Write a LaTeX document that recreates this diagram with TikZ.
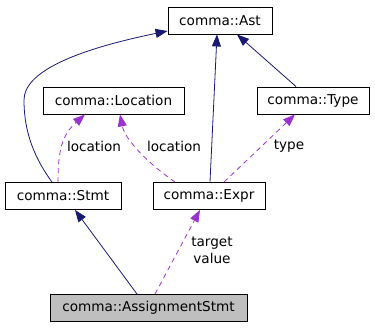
\documentclass[tikz,border=0pt]{standalone}
\usepackage{fontspec}
\setmainfont{DejaVu Sans}
\usetikzlibrary{arrows.meta, calc}
\definecolor{inheritblue}{HTML}{191970}
\definecolor{usagepurple}{HTML}{9A32CD}
\definecolor{currentgray}{HTML}{BFBFBF}

\begin{document}
\begin{tikzpicture}[
    x=1pt, y=-1pt,
    every node/.style={font=\fontsize{13.6}{17}\selectfont, inner sep=0pt},
    classbox/.style={draw, line width=0.9pt, minimum height=27pt, fill=white},
    inherit/.style={draw=inheritblue, line width=0.8pt, -{Triangle[length=12pt, width=9pt]}},
    usage/.style={draw=usagepurple, line width=0.8pt, dash pattern=on 5pt off 4pt, -{Triangle[length=12pt, width=9pt]}},
    edgelabel/.style={align=center},
]
\useasboundingbox (0,0) rectangle (375,328);

% classes
\node[classbox, minimum width=104pt] (ast) at (220,20.5) {comma::Ast};
\node[classbox, minimum width=141pt] (loc) at (113.5,100.5) {comma::Location};
\node[classbox, minimum width=112pt] (type) at (313,100.5) {comma::Type};
\node[classbox, minimum width=116pt] (stmt) at (63,196) {comma::Stmt};
\node[classbox, minimum width=112pt] (expr) at (209,196) {comma::Expr};
\node[classbox, minimum width=197pt, fill=currentgray] (assign) at (148.5,308) {comma::AssignmentStmt};

% inheritance
\draw[inherit] ([xshift=-11pt]stmt.north) .. controls (30,152) and (24,125) .. (24,100)
    .. controls (24,72) and (75,50) .. ([yshift=-10.5pt]ast.west);
\draw[inherit] ([xshift=1pt]expr.north) -- ([xshift=-3pt]ast.south);
\draw[inherit] ([xshift=-17pt]type.north) -- ([xshift=17pt]ast.south);
\draw[inherit] ([xshift=-11.5pt]assign.north) -- ([xshift=12pt]stmt.south);

% usage
\draw[usage] ([xshift=-5pt]stmt.north) .. controls (58,150) and (62,135) .. ([xshift=-28.5pt]loc.south);
\draw[usage] ([xshift=-34pt]expr.north) .. controls (150,165) and (125,140) .. ([xshift=6.5pt]loc.south);
\draw[usage] ([xshift=15pt]expr.north) -- ([xshift=-18pt]type.south);
\draw[usage] ([xshift=6.5pt]assign.north) -- ([xshift=-9pt]expr.south);

\node[edgelabel] (lblstmt) at (94,146) {location};
\node[edgelabel] (lblexpr) at (174,146) {location};
\node[edgelabel] (lbltype) at (289,146) {type};
\node[edgelabel] (lblassign) at (212,250) {target\\value};
\end{tikzpicture}
\end{document}
